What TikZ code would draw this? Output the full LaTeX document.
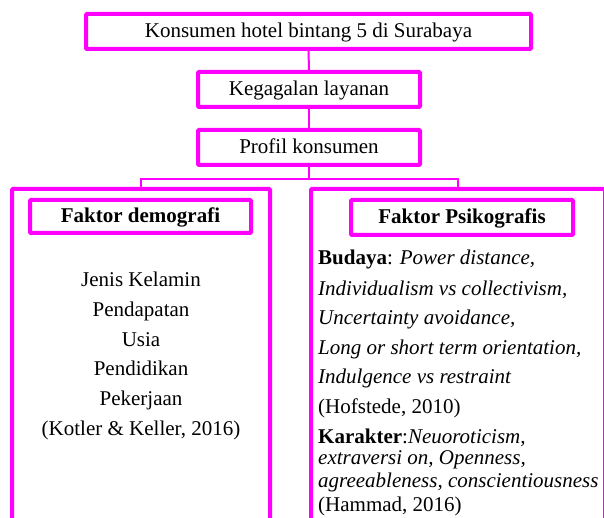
\documentclass[tikz,border=0pt]{standalone}
\usepackage{fontspec}
\setmainfont{Liberation Serif}
\definecolor{mag}{RGB}{255,0,255}
\begin{document}
\begin{tikzpicture}[x=1pt,y=-1pt,
  box/.style={draw=mag, line width=4pt, rounded corners=1pt, inner sep=0pt,
    text height=15pt, text depth=2pt, font=\fontsize{21}{25}\selectfont},
  bigbox/.style={draw=mag, line width=4pt, rounded corners=1pt, inner sep=0pt, minimum height=340pt},
  conn/.style={draw=mag, line width=2pt},
  txt/.style={inner sep=0pt, font=\fontsize{21}{25}\selectfont, anchor=base},
  rtxt/.style={txt, anchor=base west}]
\useasboundingbox (0,0) rectangle (604,518);
\clip (0,0) rectangle (604,518);
% large boxes
\node[bigbox, minimum width=258pt] (L) at (141,359) {};
\node[bigbox, minimum width=294pt] (R) at (458,359) {};
% top chain
\node[box, minimum width=445pt, minimum height=35pt] (b1) at (308.5,31.5) {Konsumen hotel bintang 5 di Surabaya};
\node[box, minimum width=222pt, minimum height=35pt] (b2) at (309,89.5) {Kegagalan layanan};
\node[box, minimum width=222pt, minimum height=35pt] (b3) at (309,147.5) {Profil konsumen};
\draw[conn] (b1.south) -- (b2.north);
\draw[conn] (b2.south) -- (b3.north);
\draw[conn] (b3.south) -- ++(0,12) coordinate (j);
\draw[conn] (L.north) |- (j) -| (R.north);
% headers
\node[box, minimum width=221pt, minimum height=33pt] (hd) at (140.5,216.5) {\textbf{Faktor demografi}};
\node[box, minimum width=222pt, minimum height=35pt] (hp) at (462,217.5) {\textbf{Faktor Psikografis}};
% left text
\node[txt] (l1) at (141,287) {Jenis Kelamin};
\node[txt] (l2) at (141,316) {Pendapatan};
\node[txt] (l3) at (141,346) {Usia};
\node[txt] (l4) at (141,375) {Pendidikan};
\node[txt] (l5) at (141,405) {Pekerjaan};
\node[txt] (l6) at (141,435) {(Kotler \& Keller, 2016)};
% right text
\node[rtxt] (r1) at (318,265) {\textbf{Budaya}: \textit{Power distance,}};
\node[rtxt] (r2) at (318,295) {\textit{Individualism vs collectivism,}};
\node[rtxt] (r3) at (318,324) {\textit{Uncertainty avoidance,}};
\node[rtxt] (r4) at (318,354) {\textit{Long or short term orientation,}};
\node[rtxt] (r5) at (318,383) {\textit{Indulgence vs restraint}};
\node[rtxt] (r6) at (318,413) {(Hofstede, 2010)};
\node[rtxt] (r7) at (318,443) {\textbf{Karakter}:\textit{Neuoroticism,}};
\node[rtxt] (r8) at (318,464) {\textit{extraversi on, Openness,}};
\node[rtxt] (r9) at (318,487) {\textit{agreeableness, conscientiousness}};
\node[rtxt] (r10) at (318,511) {(Hammad, 2016)};
\end{tikzpicture}
\end{document}
